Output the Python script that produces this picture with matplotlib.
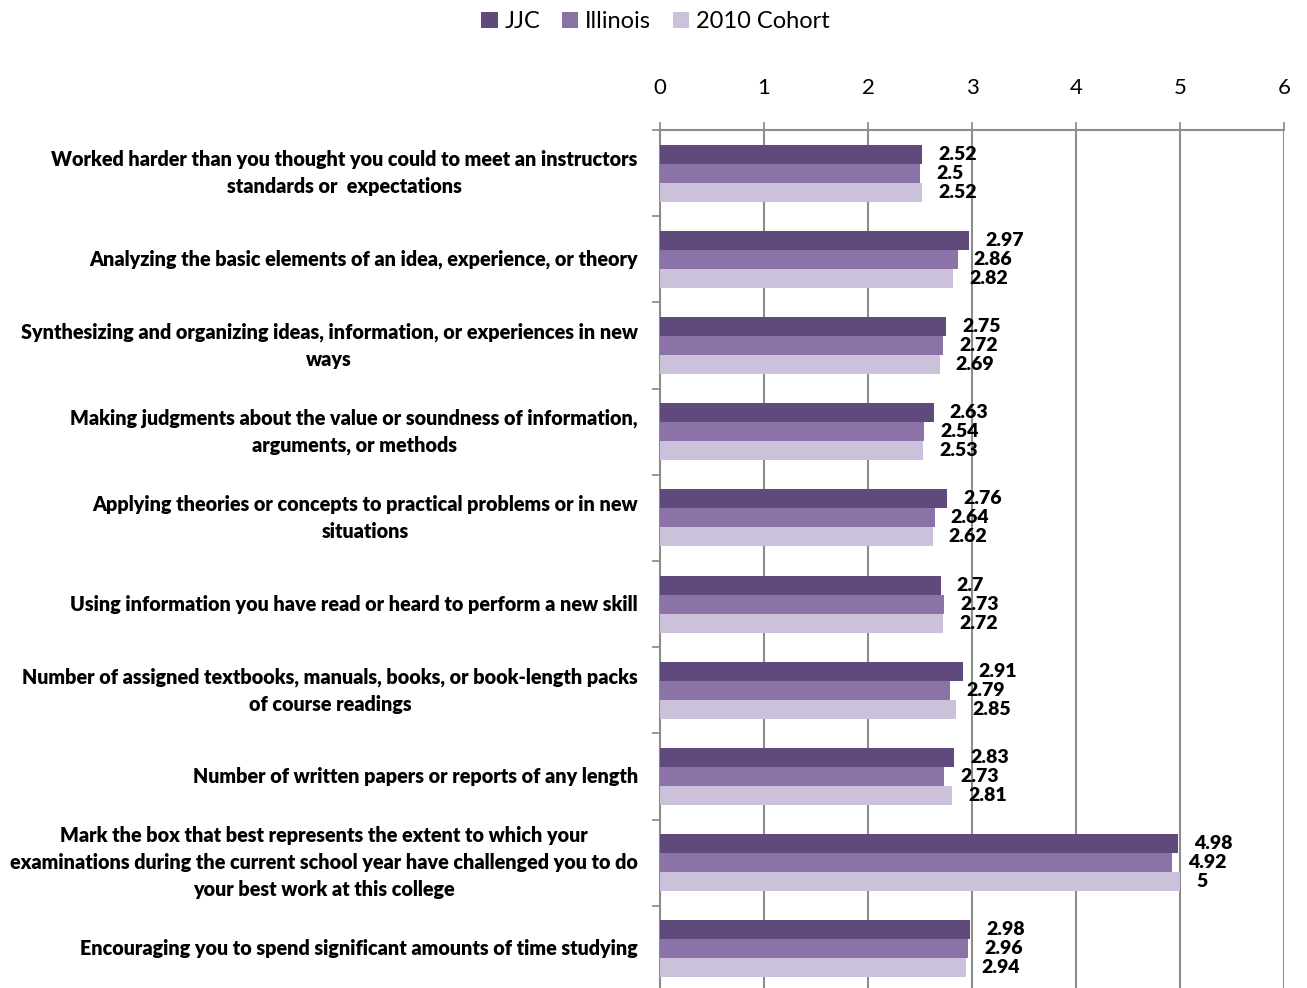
import matplotlib
matplotlib.use('Agg')
import matplotlib.pyplot as plt
import numpy as np

plt.rcParams['font.family'] = ['Lato', 'DejaVu Sans']

# Data
categories = [
    'Worked harder than you thought you could to meet an instructors\nstandards or  expectations',
    'Analyzing the basic elements of an idea, experience, or theory',
    'Synthesizing and organizing ideas, information, or experiences in new\nways',
    'Making judgments about the value or soundness of information,\narguments, or methods',
    'Applying theories or concepts to practical problems or in new\nsituations',
    'Using information you have read or heard to perform a new skill',
    'Number of assigned textbooks, manuals, books, or book-length packs\nof course readings',
    'Number of written papers or reports of any length',
    'Mark the box that best represents the extent to which your\nexaminations during the current school year have challenged you to do\nyour best work at this college',
    'Encouraging you to spend significant amounts of time studying',
]
series_names = ['JJC', 'Illinois', '2010 Cohort']
jjc = [2.52, 2.97, 2.75, 2.63, 2.76, 2.7, 2.91, 2.83, 4.98, 2.98]
illinois = [2.5, 2.86, 2.72, 2.54, 2.64, 2.73, 2.79, 2.73, 4.92, 2.96]
cohort = [2.52, 2.82, 2.69, 2.53, 2.62, 2.72, 2.85, 2.81, 5, 2.94]
x_ticks = [0, 1, 2, 3, 4, 5, 6]

colors = ['#604a7b', '#8b73a8', '#ccc1da']

fig = plt.figure(figsize=(13.07, 9.88), dpi=100)
ax = fig.add_axes([0.505, -0.004, 0.4775, 0.8724])

n = len(categories)
y = np.arange(n)
h = 0.221
for i, (vals, name, c) in enumerate(zip([jjc, illinois, cohort], series_names, colors)):
    pos = y - h + i * h
    ax.barh(pos, vals, height=h, color=c, label=name, zorder=3)
    for p, v in zip(pos, vals):
        ax.annotate(f'{v:g}', xy=(v, p), xytext=(11.5, 0), textcoords='offset points',
                    ha='left', va='center', fontsize=14, fontweight='heavy', zorder=4)

ax.set_ylim(n - 0.5, -0.5)
ax.set_xlim(0, 6)
ax.set_xticks(x_ticks)
ax.xaxis.tick_top()
ax.tick_params(axis='x', length=6, width=1.2, color='#888888', pad=17, labelsize=16)
ax.grid(axis='x', color='#8c8c8c', linewidth=1.5, zorder=0)

ax.set_yticks(np.arange(n + 1) - 0.5, minor=True)
ax.set_yticks(y)
ax.set_yticklabels(categories, fontsize=14.2, fontweight='heavy', ha='right', va='center',
                   multialignment='center', linespacing=1.5)
ax.tick_params(axis='y', which='major', length=0, pad=16)
ax.tick_params(axis='y', which='minor', length=6, width=1.2, color='#888888')

for s in ['right', 'bottom']:
    ax.spines[s].set_visible(False)
for s in ['top', 'left']:
    ax.spines[s].set_color('#8c8c8c')
    ax.spines[s].set_linewidth(1.5)

fig.legend(loc='upper center', bbox_to_anchor=(0.5015, 1.01), ncol=3, frameon=False,
           fontsize=17, handlelength=0.7, handleheight=0.7, handletextpad=0.3,
           columnspacing=0.9)

fig.savefig('out.png', dpi=100)
